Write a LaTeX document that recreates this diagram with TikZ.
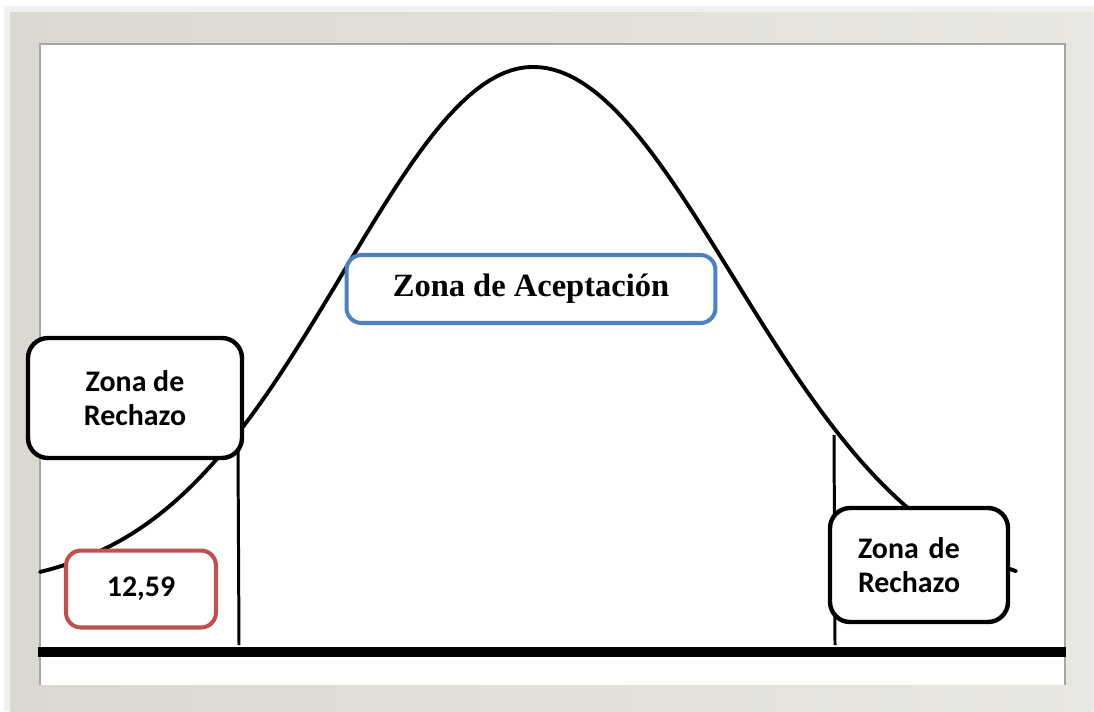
\documentclass[tikz,border=0pt]{standalone}
\usepackage{fontspec}
\setmainfont{Liberation Serif}
\newfontfamily\calfont{Carlito}[BoldFont={Carlito Bold}]
\definecolor{frameA}{RGB}{218,216,208}
\definecolor{frameB}{RGB}{233,231,225}
\definecolor{boxB}{RGB}{79,129,189}
\definecolor{boxR}{RGB}{192,80,77}
\begin{document}
\begin{tikzpicture}[x=0.02cm,y=-0.02cm,
  zona/.style={draw=black,line width=2.5pt,rounded corners=0.4cm,fill=white,font=\calfont\bfseries\fontsize{17}{19.5}\selectfont},
  acept/.style={draw=boxB,line width=2.3pt,rounded corners=0.3cm,fill=white,font=\bfseries\fontsize{18.5}{22}\selectfont},
  valor/.style={draw=boxR,line width=2.3pt,rounded corners=0.3cm,fill=white,font=\calfont\bfseries\fontsize{17}{19.5}\selectfont}]
\useasboundingbox (0,0) rectangle (1094,711);
% frame
\fill[black!6] (4,6) rectangle (1094,711);
\shade[left color=frameA,right color=frameB] (10,12) rectangle (1093,711);
\fill[white] (40,44) rectangle (1065,685);
\draw[black!35,line width=0.8pt] (40,685)--(40,44)--(1065,44)--(1065,685);
% curve and limits
\draw[line width=2.2pt,line cap=round]
  plot[domain=40:533,samples=70] (\x,{590-523*exp(-0.5*((\x-533)/190)^2)})
  -- plot[domain=533:1016,samples=70] (\x,{600-533*exp(-0.5*((\x-533)/200)^2)});
\draw[line width=1.7pt] (238,450)--(239,645);
\draw[line width=1.7pt] (834,435)--(835,645);
\draw[line width=5.5pt] (38,652)--(1066,652);
% labels
\node[zona,minimum width=4.28cm,minimum height=2.4cm,align=center] (rechI) at (135,398) {Zona de\\Rechazo};
\node[acept,minimum width=7.38cm,minimum height=1.36cm] (acep) at (531,289) {Zona de Aceptación};
\node[valor,minimum width=3cm,minimum height=1.54cm] (val) at (141,589) {12,59};
\node[zona,text width=2.44cm,inner xsep=0.56cm,minimum height=2.28cm,align=left] (rechD) at (919,565) {Zona de\\Rechazo};
\end{tikzpicture}
\end{document}
